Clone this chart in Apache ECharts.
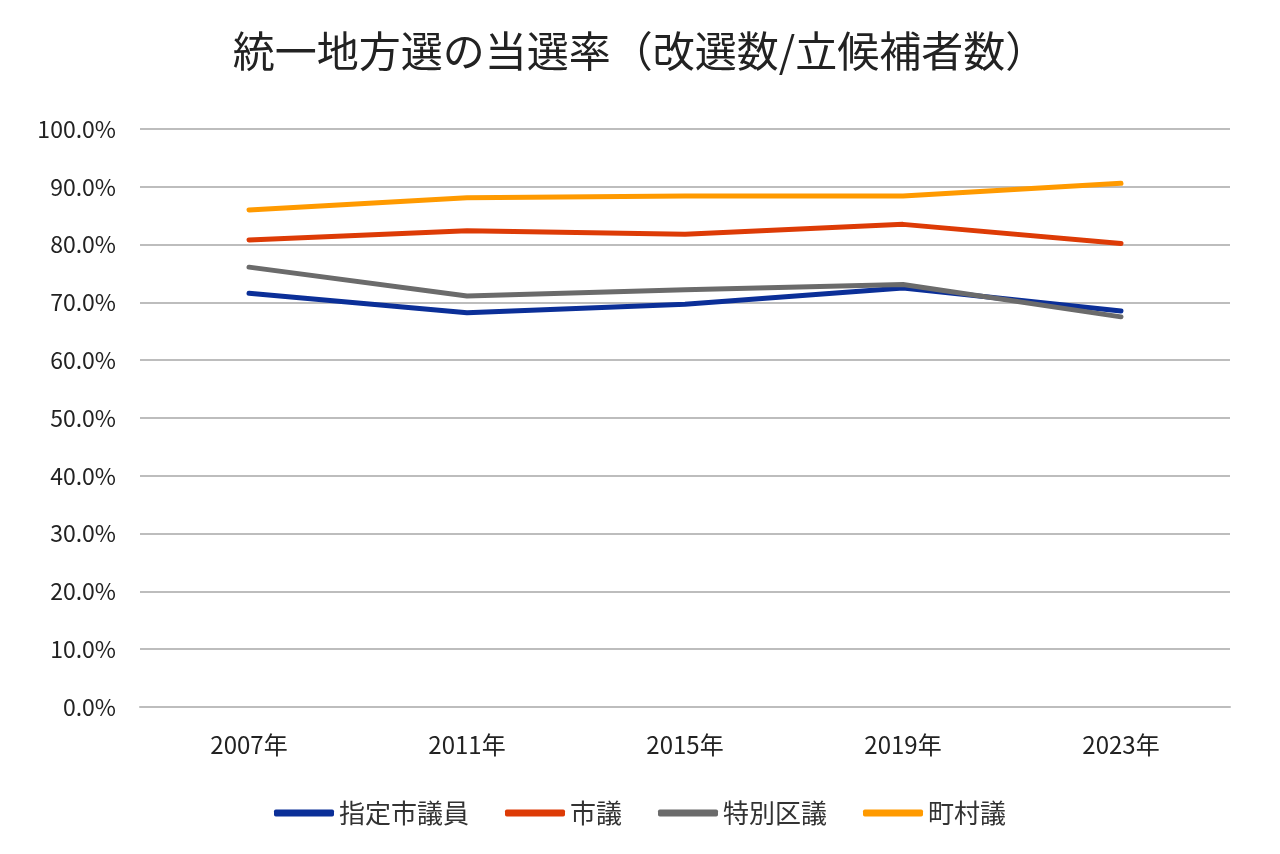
<!DOCTYPE html>
<html><head><meta charset="utf-8">
<script src="https://cdn.jsdelivr.net/npm/echarts@6/dist/echarts.min.js"></script>
<style>html,body{margin:0;padding:0;background:#fff}#c{width:1280px;height:854px}</style>
</head><body><div id="c"></div>
<script>
const categories = ['2007年','2011年','2015年','2019年','2023年'];
const shiteiShigi = [71.6, 68.2, 69.7, 72.5, 68.5];
const shigi = [80.8, 82.4, 81.8, 83.5, 80.2];
const tokubetsuKugi = [76.1, 71.1, 72.2, 73.1, 67.5];
const chosonGi = [86.0, 88.1, 88.4, 88.4, 90.6];
const seriesNames = ['指定市議員','市議','特別区議','町村議'];
const colors = ['#0B2F98','#DD3B06','#6B6B6B','#FF9A00'];
const font = '"Noto Sans CJK JP", "Noto Sans", sans-serif';
const chart = echarts.init(document.getElementById('c'));
const data = [shiteiShigi, shigi, tokubetsuKugi, chosonGi];
chart.setOption({
  animation: false,
  title: {text: '統一地方選の当選率（改選数/立候補者数）', left: 'center', top: 25,
    textStyle: {fontFamily: font, fontSize: 42, fontWeight: 'normal', color: '#222'}},
  legend: {top: 795, left: 'center', itemWidth: 60, itemHeight: 7, itemGap: 36, icon: 'roundRect',
    textStyle: {fontFamily: font, fontSize: 26, color: '#333'}, data: seriesNames},
  grid: {left: 140, right: 50, top: 129, bottom: 147},
  xAxis: {type: 'category', data: categories, boundaryGap: true,
    axisLine: {lineStyle: {color: '#BDBDBD', width: 2}}, axisTick: {show: false},
    axisLabel: {fontFamily: font, fontSize: 24, color: '#222', margin: 26}},
  yAxis: {type: 'value', min: 0, max: 100, interval: 10,
    axisLine: {show: false}, axisTick: {show: false},
    splitLine: {lineStyle: {color: '#BDBDBD', width: 2}},
    axisLabel: {fontFamily: font, fontSize: 23, color: '#222', margin: 24,
      formatter: v => v.toFixed(1) + '%'}},
  series: seriesNames.map((n, i) => ({
    name: n, type: 'line', data: data[i], symbol: 'none', color: colors[i],
    lineStyle: {width: 5, color: colors[i], cap: 'round'}, itemStyle: {color: colors[i]}
  }))
});
</script></body></html>
